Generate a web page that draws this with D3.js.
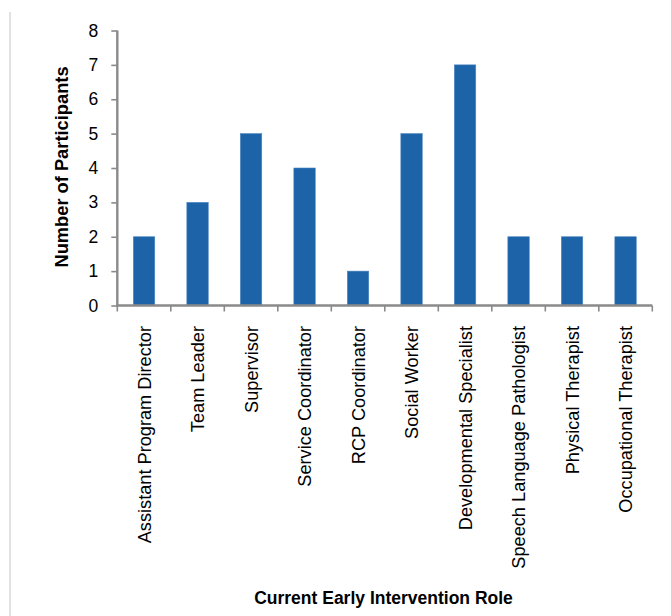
<!DOCTYPE html>
<html>
<head>
<meta charset="utf-8">
<script src="https://cdn.jsdelivr.net/npm/d3@7"></script>
<style>
  html, body { margin: 0; padding: 0; background: #fff; }
  svg { display: block; font-family: "Liberation Sans", Arial, sans-serif; }
</style>
</head>
<body>
<svg id="chart" width="671" height="616"></svg>
<script>
// Participants by current early intervention role
const roles = [
  "Assistant Program Director",
  "Team Leader",
  "Supervisor",
  "Service Coordinator",
  "RCP Coordinator",
  "Social Worker",
  "Developmental Specialist",
  "Speech Language Pathologist",
  "Physical Therapist",
  "Occupational Therapist"
];
const participants = [2, 3, 5, 4, 1, 5, 7, 2, 2, 2];
const yTicks = [0, 1, 2, 3, 4, 5, 6, 7, 8];

const svg = d3.select("#chart");
const plot = { left: 117.3, right: 652.3, top: 30.5, bottom: 305.5 };
const axisColor = "#8a8a8a";

// thin frame line on the left edge
svg.append("line")
  .attr("x1", 10).attr("x2", 10)
  .attr("y1", 12).attr("y2", 616)
  .attr("stroke", "#cfcfcf").attr("stroke-width", 1.2);

const x = d3.scaleBand()
  .domain(roles)
  .range([plot.left, plot.right])
  .paddingInner(0.6)
  .paddingOuter(0.3);

const xCat = d3.scaleBand().domain(roles).range([plot.left, plot.right]);

const y = d3.scaleLinear().domain([0, 8]).range([plot.bottom, plot.top]);

// bars
svg.append("g").selectAll("rect")
  .data(roles)
  .join("rect")
  .attr("x", d => x(d))
  .attr("width", x.bandwidth())
  .attr("y", (d, i) => y(participants[i]))
  .attr("height", (d, i) => y(0) - y(participants[i]))
  .attr("fill", "#1c63a8")
  .attr("stroke", "#4d86c2")
  .attr("stroke-width", 0.6);

// y axis
const yAxis = svg.append("g")
  .attr("transform", `translate(${plot.left},0)`)
  .call(d3.axisLeft(y).tickValues(yTicks).tickFormat(d3.format("d")).tickSize(6).tickPadding(13));
yAxis.attr("font-size", null).attr("font-family", null);
yAxis.select(".domain").attr("stroke", axisColor).attr("stroke-width", 2.4)
  .attr("d", `M0,${plot.top}V${plot.bottom}`);
yAxis.selectAll(".tick line").attr("stroke", axisColor).attr("stroke-width", 1.6);
yAxis.selectAll(".tick text")
  .attr("fill", "#000")
  .style("font-size", "17.5px")
  .style("font-family", "'Liberation Sans', Arial, sans-serif");

// x axis: ticks at category boundaries
const boundaries = roles.map(r => xCat(r)).concat([plot.right]);
const xAxis = svg.append("g");
xAxis.append("line")
  .attr("x1", plot.left - 1).attr("x2", plot.right)
  .attr("y1", plot.bottom).attr("y2", plot.bottom)
  .attr("stroke", axisColor).attr("stroke-width", 2.4);
xAxis.selectAll("line.tk")
  .data(boundaries)
  .join("line")
  .attr("class", "tk")
  .attr("x1", d => d).attr("x2", d => d)
  .attr("y1", plot.bottom).attr("y2", plot.bottom + 6)
  .attr("stroke", axisColor).attr("stroke-width", 1.6);

// rotated category labels
xAxis.selectAll("text.cat")
  .data(roles)
  .join("text")
  .attr("class", "cat")
  .attr("transform", d => `translate(${xCat(d) + xCat.bandwidth() / 2 + 6.5},326) rotate(-90)`)
  .attr("text-anchor", "end")
  .style("font-size", "18.2px")
  .attr("fill", "#000")
  .text(d => d);

// axis titles
svg.append("text")
  .attr("transform", "translate(67.5,167) rotate(-90)")
  .attr("text-anchor", "middle")
  .style("font-size", "18.3px")
  .attr("font-weight", "bold")
  .text("Number of Participants");

svg.append("text")
  .attr("x", 383.5).attr("y", 604)
  .attr("text-anchor", "middle")
  .style("font-size", "17.5px")
  .attr("font-weight", "bold")
  .text("Current Early Intervention Role");
</script>
</body>
</html>
